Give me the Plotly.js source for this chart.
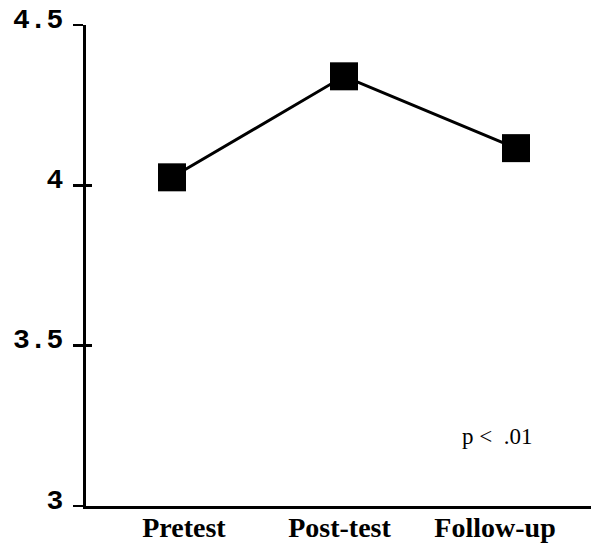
<!DOCTYPE html>
<html>
<head>
<meta charset="utf-8">
<script src="https://cdn.plot.ly/plotly-3.0.1.min.js"></script>
<style>html,body{margin:0;padding:0;background:#fff;}#chart{width:591px;height:547px;}</style>
</head>
<body>
<div id="chart"></div>
<script>
const categories = ["Pretest", "Post-test", "Follow-up"];
const values = [4.025, 4.34, 4.116];
const yTickVals = [3, 3.5, 4, 4.5];
const yTickText = ["3", "3.5", "4", "4.5"];
const note = "p &lt;&nbsp; .01";

const idx = categories.map((c, i) => i);

const traces = [
  {
    x: idx, y: values, type: "scatter", mode: "lines+markers",
    line: {color: "#000", width: 3},
    marker: {symbol: "square", size: 28, color: "#000"},
    hoverinfo: "skip", showlegend: false, xaxis: "x", yaxis: "y"
  },
  {
    x: idx, y: values, type: "scatter", mode: "markers",
    marker: {size: 1, color: "rgba(0,0,0,0)"},
    hoverinfo: "skip", showlegend: false, xaxis: "x2", yaxis: "y2"
  }
];

const layout = {
  width: 591, height: 547,
  margin: {l: 86, r: 0, t: 25, b: 41},
  paper_bgcolor: "#fff", plot_bgcolor: "#fff",
  showlegend: false,
  xaxis: {
    type: "linear", range: [-0.5, 2.436],
    showgrid: false, zeroline: false, showline: true, linecolor: "#000", linewidth: 3,
    showticklabels: false, ticks: "", automargin: false
  },
  xaxis2: {
    type: "linear", overlaying: "x", side: "bottom", range: [-0.63, 2.617],
    tickvals: idx, ticktext: categories,
    showgrid: false, zeroline: false, showline: false, ticks: "",
    tickfont: {family: "Liberation Serif", size: 28, color: "#000", weight: "bold"},
    ticklabelstandoff: 2, automargin: false
  },
  yaxis: {
    range: [3, 4.5], tickvals: yTickVals, ticktext: yTickText,
    showgrid: false, zeroline: false, showline: true, linecolor: "#000", linewidth: 3,
    ticks: "outside", ticklen: 10, tickwidth: 2.5, tickcolor: "#000",
    tickfont: {family: "Liberation Mono", size: 28, color: "#000", weight: "bold"},
    ticklabelstandoff: 4, ticklabelshift: -7, automargin: false
  },
  yaxis2: {
    range: [3, 4.5], overlaying: "y", side: "left", tickvals: yTickVals,
    showticklabels: false, showgrid: false, zeroline: false, showline: false,
    ticks: "inside", ticklen: 6, tickwidth: 2.5, tickcolor: "#000"
  },
  annotations: [{
    text: note, xref: "paper", yref: "paper", x: 0.814, y: 0.1455,
    xanchor: "center", yanchor: "middle", showarrow: false,
    font: {family: "Liberation Serif", size: 23, color: "#000"}
  }]
};

Plotly.newPlot("chart", traces, layout, {staticPlot: true, displayModeBar: false});
</script>
</body>
</html>
